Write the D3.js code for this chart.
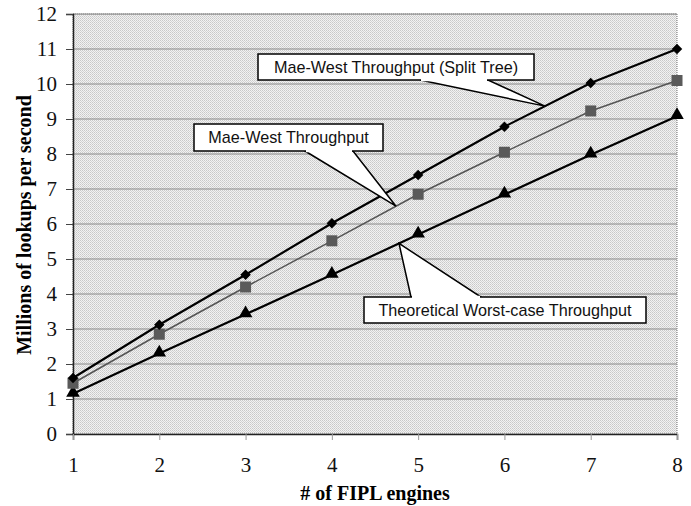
<!DOCTYPE html>
<html>
<head>
<meta charset="utf-8">
<script src="https://d3js.org/d3.v7.min.js"></script>
<style>
body { margin: 0; background: #fff; }
svg text { font-family: "Liberation Serif", "Times New Roman", serif; }
.callout text { font-family: "Liberation Sans", Arial, sans-serif; font-size: 16.2px; }
</style>
</head>
<body>
<svg id="chart" width="691" height="506"></svg>
<script>
// data
const engines = [1, 2, 3, 4, 5, 6, 7, 8];
const splitTree = [1.6, 3.12, 4.55, 6.02, 7.4, 8.78, 10.03, 11.0];
const maeWest = [1.45, 2.85, 4.2, 5.52, 6.85, 8.05, 9.23, 10.1];
const worstCase = [1.15, 2.3, 3.42, 4.55, 5.7, 6.84, 7.98, 9.08];
const yTicks = d3.range(0, 13);

const svg = d3.select("#chart");
const plotL = 73, plotR = 677, plotT = 14, plotB = 434;

const x = d3.scaleLinear().domain([1, 8]).range([plotL, plotR]);
const y = d3.scaleLinear().domain([0, 12]).range([plotB, plotT]);

// stippled gray plot background
const defs = svg.append("defs");
const pat = defs.append("pattern")
    .attr("id", "stip").attr("width", 2).attr("height", 2)
    .attr("patternUnits", "userSpaceOnUse");
pat.append("rect").attr("width", 2).attr("height", 2).attr("fill", "#f2f2f2");
pat.append("rect").attr("width", 1).attr("height", 1).attr("fill", "#c8c8c8");
pat.append("rect").attr("x", 1).attr("y", 1).attr("width", 1).attr("height", 1).attr("fill", "#d4d4d4");

svg.append("rect")
    .attr("x", plotL).attr("y", plotT)
    .attr("width", plotR - plotL).attr("height", plotB - plotT)
    .attr("fill", "url(#stip)")
    .attr("stroke", "#777").attr("stroke-dasharray", "1,1");

// gridlines
svg.append("g").selectAll("line")
    .data(yTicks.filter(d => d > 0))
    .join("line")
    .attr("x1", plotL).attr("x2", plotR)
    .attr("y1", d => y(d)).attr("y2", d => y(d))
    .attr("stroke", "#8a8a8a").attr("stroke-width", 1);

// axes
const yAxis = svg.append("g")
    .attr("transform", `translate(${plotL},0)`)
    .call(d3.axisLeft(y).tickValues(yTicks).tickSize(7).tickPadding(9));
const xAxis = svg.append("g")
    .attr("transform", `translate(0,${plotB})`)
    .call(d3.axisBottom(x).tickValues(engines).tickFormat(d3.format("d")).tickSize(6).tickPadding(17));
[yAxis, xAxis].forEach(a => {
    a.select(".domain").attr("stroke", "#222").attr("stroke-width", 1.5);
    a.selectAll(".tick line").attr("stroke", "#444");
    a.selectAll("text").attr("font-size", 21)
        .attr("font-family", "Liberation Serif, Times New Roman, serif").attr("fill", "#111");
});
xAxis.selectAll(".tick line").attr("stroke", "#999");

// axis titles
svg.append("text")
    .attr("x", 375).attr("y", 500)
    .attr("text-anchor", "middle")
    .attr("font-size", 20).attr("font-weight", "bold")
    .text("# of FIPL engines");
svg.append("text")
    .attr("transform", "translate(31,225) rotate(-90)")
    .attr("text-anchor", "middle")
    .attr("font-size", 20).attr("font-weight", "bold")
    .text("Millions of lookups per second");

const line = d3.line().x((d, i) => x(engines[i])).y(d => y(d));

// series lines
svg.append("path").datum(worstCase).attr("d", line)
    .attr("fill", "none").attr("stroke", "#000").attr("stroke-width", 2.2);
svg.append("path").datum(maeWest).attr("d", line)
    .attr("fill", "none").attr("stroke", "#555").attr("stroke-width", 1.5);
svg.append("path").datum(splitTree).attr("d", line)
    .attr("fill", "none").attr("stroke", "#000").attr("stroke-width", 2.2);

// markers
svg.append("g").selectAll("path").data(worstCase).join("path")
    .attr("transform", (d, i) => `translate(${x(engines[i])},${y(d) - 1})`)
    .attr("d", d3.symbol(d3.symbolTriangle, 80))
    .attr("fill", "#000");
svg.append("g").selectAll("rect").data(maeWest).join("rect")
    .attr("x", (d, i) => x(engines[i]) - 5.5).attr("y", d => y(d) - 5.5)
    .attr("width", 11).attr("height", 11)
    .attr("fill", "#5a5a5a");
svg.append("g").selectAll("path").data(splitTree).join("path")
    .attr("transform", (d, i) => `translate(${x(engines[i])},${y(d)}) rotate(45)`)
    .attr("d", d3.symbol(d3.symbolSquare, 55))
    .attr("fill", "#000");

// callouts: box + wedge pointing at a point on a series
function callout(label, bx, by, bw, bh, p1, p2, tipX, tipSeries) {
    const g = svg.append("g").attr("class", "callout");
    const tip = [x(tipX), y(tipSeries(tipX))];
    const below = tip[1] > by;
    const baseY = below ? by + bh : by;
    g.append("path")
        .attr("d", `M${p1},${baseY}L${tip[0]},${tip[1]}L${p2},${baseY}Z`)
        .attr("fill", "#fff").attr("stroke", "#000").attr("stroke-width", 1.5);
    g.append("rect")
        .attr("x", bx).attr("y", by).attr("width", bw).attr("height", bh)
        .attr("fill", "#fff").attr("stroke", "#000").attr("stroke-width", 1.5);
    g.append("path")
        .attr("d", `M${p1 + 1},${baseY}L${p2 - 1},${baseY}`)
        .attr("stroke", "#fff").attr("stroke-width", 2.5);
    g.append("text")
        .attr("x", bx + bw / 2).attr("y", by + bh / 2 + 5.5)
        .attr("text-anchor", "middle").attr("fill", "#111")
        .text(label);
}
const interp = arr => v => {
    const i = Math.min(Math.floor(v) - 1, arr.length - 2);
    const t = v - (i + 1);
    return arr[i] + (arr[i + 1] - arr[i]) * t;
};
callout("Mae-West Throughput (Split Tree)", 258, 54, 276, 26, 420, 488, x.invert(545), interp(splitTree));
callout("Mae-West Throughput", 194, 124, 189, 27, 305, 353, x.invert(396), interp(maeWest));
callout("Theoretical Worst-case Throughput", 364, 297, 282, 26, 411, 481, x.invert(399), interp(worstCase));
</script>
</body>
</html>
